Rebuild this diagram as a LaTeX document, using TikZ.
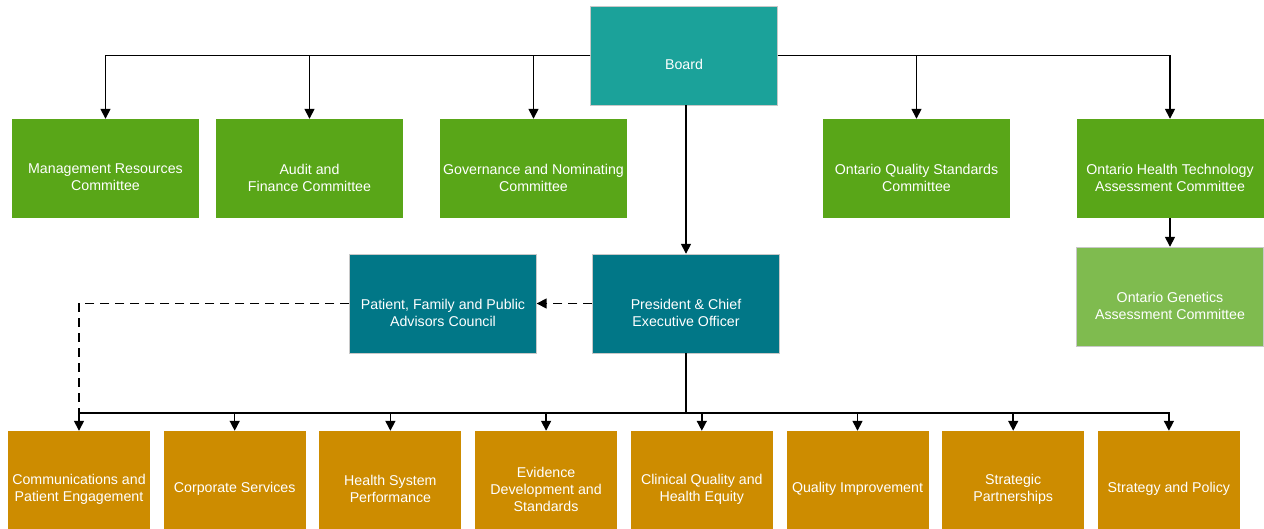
\documentclass[tikz,border=0pt]{standalone}
\usepackage{fontspec}
\setmainfont{Liberation Sans}
\usepackage{tikz}
\usetikzlibrary{arrows.meta}
\definecolor{boardteal}{HTML}{1BA29A}
\definecolor{ceoteal}{HTML}{017787}
\definecolor{cmtgreen}{HTML}{59A618}
\definecolor{subgreen}{HTML}{7FBB4F}
\definecolor{unitgold}{HTML}{CD8C00}
\definecolor{edgegray}{HTML}{C8C8C8}

\tikzset{
  box/.style={minimum width=187pt,minimum height=99pt,inner sep=0pt},
  txt/.style={yshift=-9pt,align=center,text=white,font=\fontsize{14.2}{17}\selectfont},
  arr/.style={line width=1.5pt,-{Triangle[width=10pt,length=10pt]}}
}

\begin{document}
\begin{tikzpicture}[x=1pt,y=-1pt]
  \useasboundingbox (0,0) rectangle (1264,529);
  % board and committees
  \node[box,fill=boardteal,draw=edgegray,label={[txt]center:Board}] (board) at (684,55.5) {};
  \node[box,fill=cmtgreen,label={[txt]center:Management Resources\\Committee}] (mrc) at (105.5,168.5) {};
  \node[box,fill=cmtgreen,label={[txt]center:Audit and\\Finance Committee}] (afc) at (309.5,168.5) {};
  \node[box,fill=cmtgreen,label={[txt]center:Governance and Nominating\\Committee}] (gnc) at (533.5,168.5) {};
  \node[box,fill=cmtgreen,label={[txt]center:Ontario Quality Standards\\Committee}] (oqsc) at (916.5,168.5) {};
  \node[box,fill=cmtgreen,label={[txt]center:Ontario Health Technology\\Assessment Committee}] (ohtac) at (1170,168.5) {};
  \node[box,fill=subgreen,draw=edgegray,label={[txt]center:Ontario Genetics\\Assessment Committee}] (ogac) at (1170,296.5) {};
  % executive
  \node[box,fill=ceoteal,draw=edgegray,label={[txt]center:President \& Chief\\Executive Officer}] (ceo) at (686,303.5) {};
  \node[box,fill=ceoteal,draw=edgegray,label={[txt]center:{Patient, Family and Public\\Advisors Council}}] (pfac) at (443,303.5) {};
  % divisions
  \foreach \i/\t in {0/{Communications and\\Patient Engagement},1/{Corporate Services},
    2/{Health System\\Performance},3/{Evidence\\Development and\\Standards},
    4/{Clinical Quality and\\Health Equity},5/{Quality Improvement},
    6/{Strategic\\Partnerships},7/{Strategy and Policy}}
    \node[box,minimum width=142pt,minimum height=98pt,fill=unitgold,label={[txt]center:\t}] (unit\i) at (79+155.7*\i,480) {};

  \draw[arr] (board.west) -| (mrc.north);
  \draw[arr] (board.west) -| (afc.north);
  \draw[arr] (board.west) -| (gnc.north);
  \draw[arr] (board.east) -| (oqsc.north);
  \draw[arr] (board.east) -| (ohtac.north);
  \draw[arr] (ohtac.south) -- (ogac.north);
  \draw[arr] (ceo.north |- board.south) -- (ceo.north);
  \draw[arr,dash pattern=on 9pt off 6pt] (ceo.west) -- (pfac.east);

  \coordinate (bus) at (686,413);
  \draw[line width=1.5pt] (ceo.south) -- (bus);
  \foreach \i in {0,...,7} \draw[arr] (bus) -| (unit\i.north);
  \draw[line width=1.5pt,dash pattern=on 9pt off 6pt] (pfac.west) -| (unit0.north |- bus);
\end{tikzpicture}
\end{document}
